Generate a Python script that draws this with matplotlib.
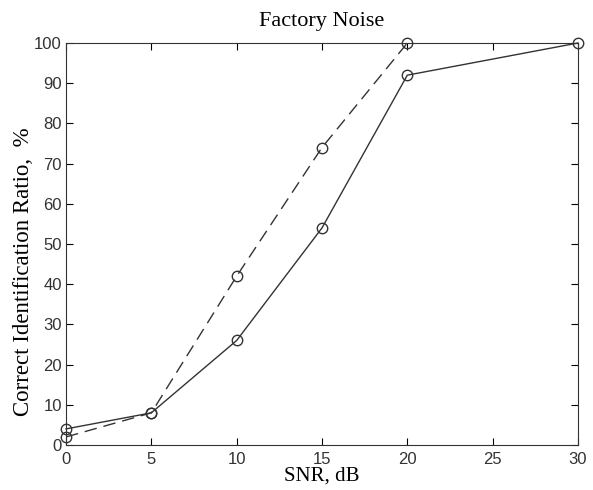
import matplotlib
matplotlib.use('Agg')
import matplotlib.pyplot as plt

snr_solid = [0, 5, 10, 15, 20, 30]
ratio_solid = [4, 8, 26, 54, 92, 100]
snr_dashed = [0, 5, 10, 15, 20]
ratio_dashed = [2, 8, 42, 74, 100]
xticks = [0, 5, 10, 15, 20, 25, 30]
yticks = [0, 10, 20, 30, 40, 50, 60, 70, 80, 90, 100]

fig = plt.figure(figsize=(5.93, 4.90), dpi=100)
ax = fig.add_axes([66/593, 1-445/490, 512/593, 402/490])

ax.plot(snr_solid, ratio_solid, '-', color='#333333', lw=1.0,
        marker='o', mfc='none', mec='#333333', ms=7.5, mew=1.0, clip_on=False)
ax.plot(snr_dashed, ratio_dashed, '--', color='#333333', lw=1.0, dashes=(9, 5),
        marker='o', mfc='none', mec='#333333', ms=7.5, mew=1.0, clip_on=False)

ax.set_xlim(0, 30)
ax.set_ylim(0, 100)
ax.set_xticks(xticks)
ax.set_yticks(yticks)
ax.tick_params(direction='in', length=5, labelsize=12, top=True, right=True)
ax.tick_params(axis='x', pad=5)
ax.tick_params(axis='y', pad=3)
for lab in ax.get_xticklabels() + ax.get_yticklabels():
    lab.set_family('Liberation Sans')
    lab.set_color('#333333')
for sp in ax.spines.values():
    sp.set_color('#333333')

ax.set_title('Factory Noise', family='Liberation Serif', fontsize=16, pad=12)
ax.set_xlabel('SNR, dB', family='Liberation Serif', fontsize=15, labelpad=0)
ax.set_ylabel('Correct Identification Ratio,  %', family='Liberation Serif', fontsize=16.5)
ax.yaxis.set_label_coords(-0.062, 0.43)

fig.savefig('out.png', dpi=100)
